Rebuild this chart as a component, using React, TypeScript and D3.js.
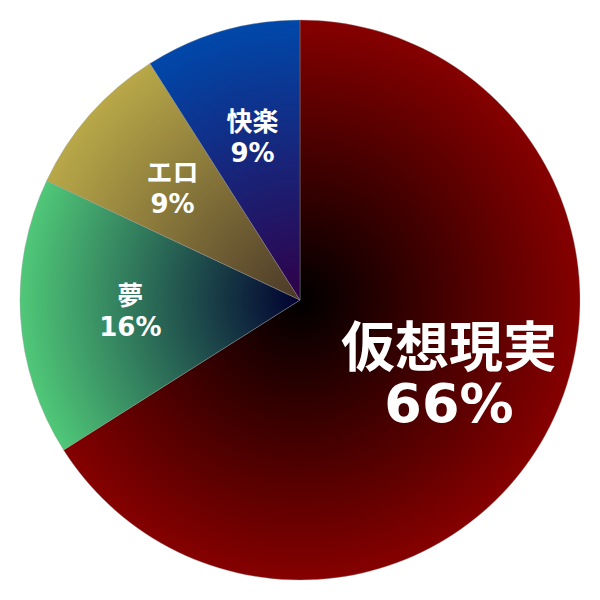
import { useEffect, useRef } from 'react'
import * as d3 from 'd3'

const labels = ['仮想現実', '夢', 'エロ', '快楽']
const values = [66, 16, 9, 9]
const edgeColors = ['#860000', '#50c878', '#b8a848', '#0048aa']
const innerColors = ['#000000', '#000030', '#4a3828', '#300048']

const width = 600
const height = 600
const radius = 280

function App() {
  const ref = useRef<SVGSVGElement>(null)

  useEffect(() => {
    const svg = d3.select(ref.current)
    svg.selectAll('*').remove()

    const data = labels.map((label, i) => ({ label, value: values[i], i }))

    const defs = svg.append('defs')
    data.forEach((d) => {
      const grad = defs
        .append('radialGradient')
        .attr('id', `grad-${d.i}`)
        .attr('gradientUnits', 'userSpaceOnUse')
        .attr('cx', 0)
        .attr('cy', 0)
        .attr('r', radius)
      grad.append('stop').attr('offset', '0%').attr('stop-color', innerColors[d.i])
      grad.append('stop').attr('offset', '100%').attr('stop-color', edgeColors[d.i])
    })

    const g = svg
      .append('g')
      .attr('transform', `translate(${width / 2},${height / 2})`)

    const pie = d3
      .pie<any>()
      .value((d: any) => d.value)
      .sort(null)
    const arcs = pie(data)

    const arc = d3.arc<any>().innerRadius(0).outerRadius(radius)
    const labelArc = d3.arc<any>().innerRadius(170).outerRadius(170)

    g.selectAll('path.slice')
      .data(arcs)
      .join('path')
      .attr('class', 'slice')
      .attr('d', arc)
      .attr('fill', (d: any) => `url(#grad-${d.data.i})`)
      .attr('stroke', '#9a9a9a')
      .attr('stroke-opacity', 0.6)
      .attr('stroke-width', 0.6)

    const total = d3.sum(values)
    arcs.forEach((a: any) => {
      const [cx, cy] = labelArc.centroid(a)
      const big = a.data.value / total > 0.5
      const size = big ? 54 : 26
      const text = g
        .append('text')
        .attr('text-anchor', 'middle')
        .attr('fill', '#ffffff')
        .attr('font-weight', 'bold')
        .attr('font-family', '"DejaVu Sans", "Noto Sans CJK JP", sans-serif')
        .attr('font-size', size)
      text
        .append('tspan')
        .attr('x', cx)
        .attr('y', cy + (big ? -15 : -6))
        .text(a.data.label)
      text
        .append('tspan')
        .attr('x', cx)
        .attr('y', cy + (big ? 40 : 25))
        .text(`${a.data.value}%`)
    })
  }, [])

  return (
    <div style={{ position: 'absolute', left: 0, top: 0 }}>
      <svg ref={ref} width={width} height={height} style={{ display: 'block' }} />
    </div>
  )
}

export default App
